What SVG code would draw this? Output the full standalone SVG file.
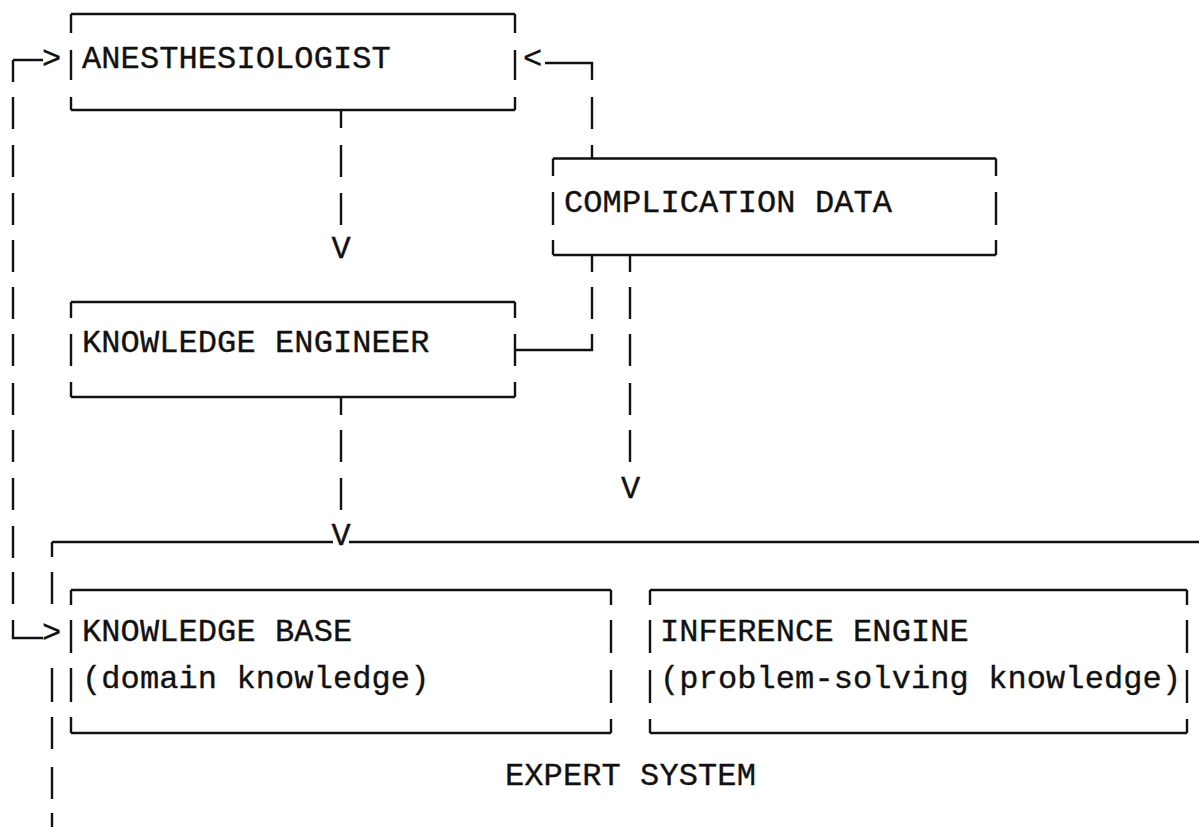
<svg xmlns="http://www.w3.org/2000/svg" width="1199" height="827" viewBox="0 0 1199 827">
<style>
  .ln { stroke:#111; stroke-width:2.4; fill:none; stroke-linecap:butt; }
  .t { font-family:"Liberation Mono","DejaVu Sans Mono",monospace; font-size:32px; letter-spacing:0.1px; fill:#111; stroke:#111; stroke-width:0.35; }
</style>
<rect x="0" y="0" width="1199" height="827" fill="#ffffff"/>

<g id="anesthesiologist">
  <path class="ln" d="M71 14 H515 M71 14 V33 M515 14 V33 M71 50 V80 M515 50 V80 M71 97 V110 M515 97 V110 M71 110 H515"/>
  <text class="t" x="82" y="68">ANESTHESIOLOGIST</text>
</g>

<g id="complication-data">
  <path class="ln" d="M553 158.5 H996 M553 158.5 V176 M996 158.5 V176 M553 192 V225 M996 192 V225 M553 240 V255 M996 240 V255 M553 255 H996"/>
  <text class="t" x="564" y="212">COMPLICATION DATA</text>
</g>

<g id="knowledge-engineer">
  <path class="ln" d="M71 302 H515 M71 302 V318 M515 302 V318 M71 334 V366 M515 334 V366 M71 382 V397 M515 382 V397 M71 397 H515"/>
  <text class="t" x="82" y="352">KNOWLEDGE ENGINEER</text>
</g>

<g id="expert-system">
  <path class="ln" d="M52 542 H333 M349 542 H1199 M52 542 V557 M52 572 V604 M52 668 V702 M52 717 V749 M52 767 V799 M52 813 V827"/>
  <text class="t" x="505" y="785">EXPERT SYSTEM</text>
</g>

<g id="knowledge-base">
  <path class="ln" d="M71 590 H611 M71 590 V605 M611 590 V605 M71 620 V653 M611 620 V653 M71 668 V702 M611 670 V703 M71 717 V733 M611 719 V733 M71 733 H611"/>
  <text class="t" x="82" y="641">KNOWLEDGE BASE</text>
  <text class="t" x="82" y="688">(domain knowledge)</text>
</g>

<g id="inference-engine">
  <path class="ln" d="M650 590 H1187 M650 590 V605 M1187 590 V605 M650 620 V653 M1187 620 V653 M650 670 V703 M1187 670 V703 M650 719 V733 M1187 719 V733 M650 733 H1187"/>
  <text class="t" x="660" y="641">INFERENCE ENGINE</text>
  <text class="t" x="660" y="688">(problem-solving knowledge)</text>
</g>

<g id="connectors">
  <!-- feedback loop: left side from anesthesiologist to knowledge base -->
  <path class="ln" d="M13 60 H43 M13 60 V82 M13 97 V129 M13 145 V177 M13 193 V225 M13 240 V272 M13 287 V319 M13 334 V366 M13 383 V415 M13 430 V462 M13 478 V510 M13 526 V558 M13 572 V604 M13 620 V638 H43"/>
  <text class="t" x="42" y="68">&gt;</text>
  <text class="t" x="42" y="642">&gt;</text>
  <!-- complication data to anesthesiologist -->
  <path class="ln" d="M545 63 H592 V80 M592 97 V129 M592 145 V158.5"/>
  <text class="t" x="523" y="68">&lt;</text>
  <!-- anesthesiologist to knowledge engineer -->
  <path class="ln" d="M341 110 V128 M341 145 V177 M341 193 V225"/>
  <text class="t" x="331.5" y="258">V</text>
  <!-- complication data to knowledge engineer -->
  <path class="ln" d="M592 255 V272 M592 287 V319 M592 334 V350 H515"/>
  <!-- complication data to expert system -->
  <path class="ln" d="M630 255 V272 M630 287 V319 M630 334 V366 M630 383 V415 M630 430 V462"/>
  <text class="t" x="621" y="498">V</text>
  <!-- knowledge engineer to expert system -->
  <path class="ln" d="M341 397 V415 M341 430 V462 M341 478 V510"/>
  <text class="t" x="331.5" y="545">V</text>
</g>
</svg>
